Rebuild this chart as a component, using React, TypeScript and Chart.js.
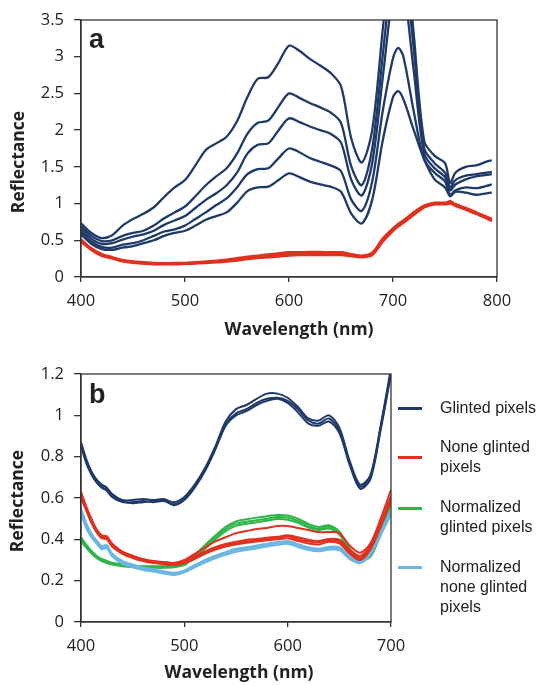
import React, { useEffect, useRef } from "react";
import { Chart, registerables } from "chart.js";

Chart.register(...registerables);

// ---------- Panel a data ----------
const wlA = [400,410,420,430,440,450,460,470,480,490,500,510,520,530,540,550,560,570,580,590,600,610,620,630,640,650,660,670,680,690,700,705,710,720,730,740,750,755,760,770,780,790,795];

const glintA1 = [0.73,0.60,0.53,0.57,0.70,0.79,0.86,0.95,1.09,1.22,1.32,1.52,1.73,1.82,1.91,2.12,2.45,2.70,2.72,2.92,3.15,3.08,2.97,2.88,2.78,2.60,1.88,1.56,2.00,3.35,4.70,5.00,4.80,3.30,1.85,1.65,1.55,1.28,1.42,1.50,1.52,1.57,1.59];
const glintA2 = [0.69,0.56,0.49,0.50,0.56,0.60,0.63,0.70,0.80,0.88,0.96,1.10,1.25,1.37,1.48,1.68,1.95,2.10,2.13,2.32,2.50,2.44,2.37,2.31,2.24,2.10,1.50,1.25,1.75,3.00,4.30,4.60,4.40,3.10,1.75,1.55,1.42,1.22,1.32,1.38,1.40,1.42,1.43];
const glintA3 = [0.65,0.52,0.45,0.46,0.51,0.55,0.58,0.63,0.71,0.77,0.83,0.94,1.05,1.14,1.25,1.42,1.68,1.80,1.82,2.00,2.16,2.11,2.05,2.00,1.95,1.83,1.32,1.11,1.55,2.70,3.90,4.15,4.00,2.80,1.68,1.48,1.36,1.18,1.26,1.33,1.37,1.39,1.40];
const glintA4 = [0.61,0.48,0.41,0.40,0.44,0.46,0.50,0.56,0.62,0.65,0.70,0.79,0.88,0.98,1.07,1.22,1.40,1.47,1.48,1.62,1.75,1.70,1.62,1.57,1.52,1.44,1.05,0.90,1.30,2.25,2.98,3.12,3.00,2.25,1.60,1.42,1.30,1.12,1.18,1.22,1.21,1.24,1.26];
const glintA5 = [0.58,0.45,0.38,0.37,0.40,0.42,0.46,0.50,0.56,0.60,0.63,0.70,0.78,0.83,0.88,1.01,1.17,1.22,1.23,1.32,1.41,1.36,1.30,1.26,1.23,1.16,0.86,0.73,1.05,1.85,2.45,2.53,2.42,2.00,1.60,1.33,1.22,1.10,1.16,1.15,1.12,1.14,1.15];

const noneA1 = [0.50,0.38,0.30,0.26,0.22,0.20,0.19,0.18,0.18,0.18,0.185,0.19,0.20,0.21,0.22,0.24,0.26,0.28,0.29,0.30,0.32,0.32,0.325,0.32,0.32,0.32,0.30,0.28,0.31,0.50,0.65,0.70,0.75,0.86,0.96,1.00,1.00,1.02,0.98,0.93,0.87,0.81,0.78];
const noneA2 = [0.48,0.37,0.29,0.255,0.215,0.195,0.185,0.175,0.175,0.175,0.18,0.185,0.19,0.20,0.21,0.225,0.245,0.26,0.27,0.28,0.295,0.30,0.30,0.30,0.30,0.30,0.285,0.27,0.30,0.48,0.63,0.69,0.74,0.85,0.95,0.99,0.99,1.00,0.97,0.92,0.86,0.80,0.76];
const noneA3 = [0.51,0.39,0.31,0.27,0.23,0.21,0.20,0.19,0.185,0.19,0.19,0.20,0.21,0.22,0.235,0.255,0.275,0.29,0.305,0.32,0.335,0.335,0.34,0.34,0.335,0.335,0.31,0.29,0.33,0.52,0.66,0.72,0.77,0.88,0.97,1.01,1.01,1.03,0.99,0.94,0.88,0.82,0.79];

const yTicksA = [0, 0.5, 1, 1.5, 2, 2.5, 3, 3.5];
const xTicksA = [400, 500, 600, 700, 800];

// ---------- Panel b data ----------
const wlB = [400,405,410,415,420,425,430,440,450,460,470,480,490,500,510,520,530,540,550,560,570,580,590,600,610,620,630,640,650,660,670,680,690,700];

const glintB1 = [0.87,0.79,0.73,0.69,0.665,0.65,0.62,0.59,0.59,0.595,0.59,0.595,0.58,0.605,0.665,0.745,0.85,0.97,1.03,1.05,1.08,1.105,1.105,1.085,1.04,0.985,0.975,1.0,0.94,0.78,0.665,0.71,0.95,1.23];
const glintB2 = [0.85,0.77,0.715,0.675,0.65,0.635,0.605,0.58,0.58,0.585,0.58,0.585,0.57,0.595,0.655,0.735,0.84,0.955,1.01,1.03,1.06,1.08,1.085,1.07,1.03,0.975,0.96,0.985,0.925,0.77,0.655,0.70,0.94,1.21];
const glintB3 = [0.86,0.78,0.72,0.68,0.655,0.64,0.61,0.585,0.575,0.58,0.585,0.59,0.565,0.59,0.65,0.73,0.835,0.95,1.0,1.02,1.05,1.07,1.08,1.06,1.015,0.96,0.95,0.97,0.915,0.76,0.645,0.69,0.93,1.20];

const noneB1 = [0.63,0.56,0.50,0.45,0.42,0.415,0.38,0.34,0.32,0.30,0.29,0.29,0.285,0.30,0.33,0.36,0.39,0.41,0.43,0.44,0.45,0.455,0.465,0.465,0.455,0.445,0.435,0.435,0.43,0.37,0.335,0.38,0.50,0.64];
const noneB2 = [0.61,0.55,0.49,0.44,0.41,0.41,0.37,0.335,0.315,0.30,0.29,0.285,0.28,0.29,0.31,0.335,0.355,0.37,0.38,0.39,0.395,0.40,0.405,0.415,0.40,0.39,0.385,0.395,0.39,0.34,0.31,0.36,0.47,0.60];
const noneB3 = [0.60,0.54,0.48,0.435,0.405,0.40,0.365,0.33,0.31,0.295,0.285,0.28,0.275,0.285,0.305,0.33,0.35,0.365,0.375,0.383,0.39,0.395,0.40,0.405,0.392,0.38,0.375,0.388,0.38,0.33,0.30,0.35,0.46,0.59];
const noneB4 = [0.62,0.555,0.495,0.445,0.415,0.405,0.375,0.34,0.32,0.305,0.295,0.29,0.285,0.295,0.318,0.342,0.362,0.377,0.388,0.397,0.402,0.408,0.412,0.42,0.41,0.398,0.392,0.402,0.398,0.35,0.32,0.37,0.48,0.61];

const normGlintB1 = [0.40,0.37,0.34,0.315,0.30,0.29,0.283,0.275,0.27,0.267,0.267,0.267,0.27,0.28,0.32,0.365,0.41,0.45,0.476,0.485,0.493,0.50,0.508,0.505,0.49,0.465,0.452,0.46,0.43,0.35,0.305,0.32,0.43,0.58];
const normGlintB2 = [0.39,0.36,0.333,0.31,0.295,0.285,0.278,0.27,0.265,0.262,0.262,0.262,0.265,0.275,0.312,0.355,0.40,0.44,0.465,0.475,0.483,0.49,0.498,0.495,0.48,0.457,0.445,0.452,0.423,0.345,0.30,0.315,0.425,0.57];
const normGlintB3 = [0.41,0.375,0.345,0.32,0.305,0.295,0.287,0.28,0.273,0.27,0.27,0.27,0.273,0.285,0.325,0.372,0.418,0.46,0.487,0.497,0.505,0.512,0.518,0.515,0.5,0.475,0.46,0.468,0.437,0.355,0.31,0.325,0.44,0.59];

const normNoneB1 = [0.54,0.47,0.42,0.39,0.36,0.365,0.325,0.29,0.272,0.258,0.25,0.24,0.232,0.245,0.27,0.295,0.315,0.332,0.348,0.355,0.363,0.372,0.38,0.385,0.37,0.355,0.348,0.357,0.355,0.31,0.29,0.33,0.43,0.53];
const normNoneB2 = [0.52,0.455,0.41,0.38,0.352,0.357,0.318,0.283,0.265,0.252,0.244,0.235,0.227,0.24,0.264,0.288,0.308,0.325,0.34,0.348,0.356,0.365,0.372,0.378,0.363,0.348,0.342,0.35,0.348,0.304,0.285,0.325,0.42,0.52];
const normNoneB3 = [0.55,0.48,0.43,0.395,0.368,0.372,0.332,0.296,0.278,0.264,0.256,0.246,0.238,0.25,0.276,0.301,0.321,0.338,0.355,0.362,0.37,0.379,0.387,0.392,0.377,0.362,0.355,0.364,0.362,0.316,0.296,0.336,0.44,0.54];

const yTicksB = [0, 0.2, 0.4, 0.6, 0.8, 1, 1.2];
const xTicksB = [400, 500, 600, 700];

const legendLabels = [
  ["Glinted pixels"],
  ["None glinted", "pixels"],
  ["Normalized", "glinted pixels"],
  ["Normalized", "none glinted", "pixels"],
];

// ---------- styles ----------
const NAVY = "#1f3a68";
const RED = "#e0301e";
const GREEN = "#2eb54a";
const LIGHTBLUE = "#6cb6e2";
const AXIS = "#333";
const TEXT = "#222";
const TICK_FONT = { family: "'Open Sans', sans-serif", size: 16.5 };
const TITLE_FONT = "bold 17.5px 'Open Sans', sans-serif";
const LETTER_FONT = "bold 27px 'Liberation Sans', Arial, sans-serif";

const toPts = (xs: number[], ys: number[]) => xs.map((x, i) => ({ x, y: ys[i] }));

const line = (xs: number[], ys: number[], color: string, width: number) => ({
  data: toPts(xs, ys),
  borderColor: color,
  backgroundColor: color,
  borderWidth: width,
  pointRadius: 0,
  tension: 0.3,
  fill: false,
});

const framePlugin = {
  id: "frame",
  afterDraw(chart: any, _args: any, opts: any) {
    const { ctx, chartArea: a } = chart;
    ctx.save();
    ctx.strokeStyle = AXIS;
    ctx.lineWidth = 1.3;
    ctx.strokeRect(a.left, a.top, a.right - a.left, a.bottom - a.top);
    ctx.fillStyle = TEXT;
    ctx.font = LETTER_FONT;
    ctx.textAlign = "left";
    ctx.textBaseline = "alphabetic";
    ctx.fillText(opts.letter, opts.letterX, opts.letterY);
    ctx.font = TITLE_FONT;
    ctx.textAlign = "center";
    ctx.textBaseline = "middle";
    ctx.fillText(opts.xTitle, opts.xTitleX, opts.xTitleY);
    ctx.translate(opts.yTitleX, opts.yTitleY);
    ctx.rotate(-Math.PI / 2);
    ctx.fillText(opts.yTitle, 0, 0);
    ctx.restore();
  },
};

const fmt = (v: any) => String(+Number(v).toFixed(2));

function makeOptions(p: {
  xMin: number; xMax: number; xTicks: number[]; yMax: number; yTicks: number[];
  padTop: number; padRight: number; xHeight: number; frame: any;
}) {
  return {
    responsive: false,
    animation: false as const,
    events: [] as any[],
    layout: { padding: { left: 0, right: p.padRight, top: p.padTop, bottom: 0 } },
    plugins: {
      legend: { display: false },
      tooltip: { enabled: false },
      frame: p.frame,
    },
    scales: {
      x: {
        type: "linear" as const,
        min: p.xMin,
        max: p.xMax,
        afterBuildTicks: (s: any) => { s.ticks = p.xTicks.map((v) => ({ value: v })); },
        ticks: { font: TICK_FONT, color: TEXT, padding: 9, maxRotation: 0, callback: fmt },
        grid: { drawOnChartArea: false, drawTicks: true, tickLength: 5, color: AXIS, lineWidth: 1.3 },
        border: { display: true, color: AXIS, width: 1.3 },
        afterFit: (s: any) => { s.height = p.xHeight; },
      },
      y: {
        type: "linear" as const,
        min: 0,
        max: p.yMax,
        afterBuildTicks: (s: any) => { s.ticks = p.yTicks.map((v) => ({ value: v })); },
        ticks: { font: TICK_FONT, color: TEXT, padding: 10, callback: fmt },
        grid: { drawOnChartArea: false, drawTicks: true, tickLength: 7, color: AXIS, lineWidth: 1.3 },
        border: { display: true, color: AXIS, width: 1.3 },
        afterFit: (s: any) => { s.width = 81; },
      },
    },
  };
}

export default function App() {
  const refA = useRef<HTMLCanvasElement>(null);
  const refB = useRef<HTMLCanvasElement>(null);

  useEffect(() => {
    const chartA = new Chart(refA.current as HTMLCanvasElement, {
      type: "line",
      data: {
        datasets: [
          line(wlA, glintA1, NAVY, 2.3),
          line(wlA, glintA2, NAVY, 2.3),
          line(wlA, glintA3, NAVY, 2.3),
          line(wlA, glintA4, NAVY, 2.3),
          line(wlA, glintA5, NAVY, 2.3),
          line(wlA, noneA1, RED, 2.6),
          line(wlA, noneA2, RED, 2.6),
          line(wlA, noneA3, RED, 2.6),
        ] as any,
      },
      options: makeOptions({
        xMin: 400, xMax: 800, xTicks: xTicksA, yMax: 3.5, yTicks: yTicksA,
        padTop: 20, padRight: 44, xHeight: 68,
        frame: { letter: "a", letterX: 89, letterY: 48, xTitle: "Wavelength (nm)", xTitleX: 299, xTitleY: 330, yTitle: "Reflectance", yTitleX: 19, yTitleY: 162 },
      }) as any,
      plugins: [framePlugin],
    });

    const chartB = new Chart(refB.current as HTMLCanvasElement, {
      type: "line",
      data: {
        datasets: [
          line(wlB, glintB1, NAVY, 2),
          line(wlB, glintB2, NAVY, 2),
          line(wlB, glintB3, NAVY, 2),
          line(wlB, noneB1, RED, 2),
          line(wlB, noneB2, RED, 2),
          line(wlB, noneB3, RED, 2),
          line(wlB, noneB4, RED, 2),
          line(wlB, normNoneB1, LIGHTBLUE, 2),
          line(wlB, normNoneB2, LIGHTBLUE, 2),
          line(wlB, normNoneB3, LIGHTBLUE, 2),
          line(wlB, normGlintB1, GREEN, 2),
          line(wlB, normGlintB2, GREEN, 2),
          line(wlB, normGlintB3, GREEN, 2),
        ] as any,
      },
      options: makeOptions({
        xMin: 400, xMax: 700, xTicks: xTicksB, yMax: 1.2, yTicks: yTicksB,
        padTop: 29, padRight: 150, xHeight: 63,
        frame: { letter: "b", letterX: 89, letterY: 58, xTitle: "Wavelength (nm)", xTitleX: 239, xTitleY: 328, yTitle: "Reflectance", yTitleX: 18, yTitleY: 156 },
      }) as any,
      plugins: [framePlugin],
    });

    return () => {
      chartA.destroy();
      chartB.destroy();
    };
  }, []);

  const legendColors = [NAVY, RED, GREEN, LIGHTBLUE];
  const legendLineY = [408, 457.5, 508.5, 567];
  const legendTextY = [408.3, 447.3, 506.7, 566.7];

  return (
    <div style={{ position: "absolute", left: 0, top: 0, width: 541, height: 685, background: "#fff", overflow: "hidden" }}>
      <canvas ref={refA} width={541} height={345} style={{ position: "absolute", left: 0, top: 0, width: 541, height: 345, display: "block" }} />
      <canvas ref={refB} width={541} height={340} style={{ position: "absolute", left: 0, top: 345, width: 541, height: 340, display: "block" }} />
      {legendLabels.map((lines, i) => (
        <React.Fragment key={i}>
          <div style={{ position: "absolute", left: 398, top: legendLineY[i] - 1.5, width: 24, height: 3.2, background: legendColors[i] }} />
          <div style={{ position: "absolute", left: 440, top: legendTextY[i] - 10, fontFamily: "'Liberation Sans', Arial, sans-serif", fontSize: 16, lineHeight: "20px", color: TEXT, whiteSpace: "nowrap" }}>
            {lines.map((t, j) => (<div key={j}>{t}</div>))}
          </div>
        </React.Fragment>
      ))}
    </div>
  );
}
